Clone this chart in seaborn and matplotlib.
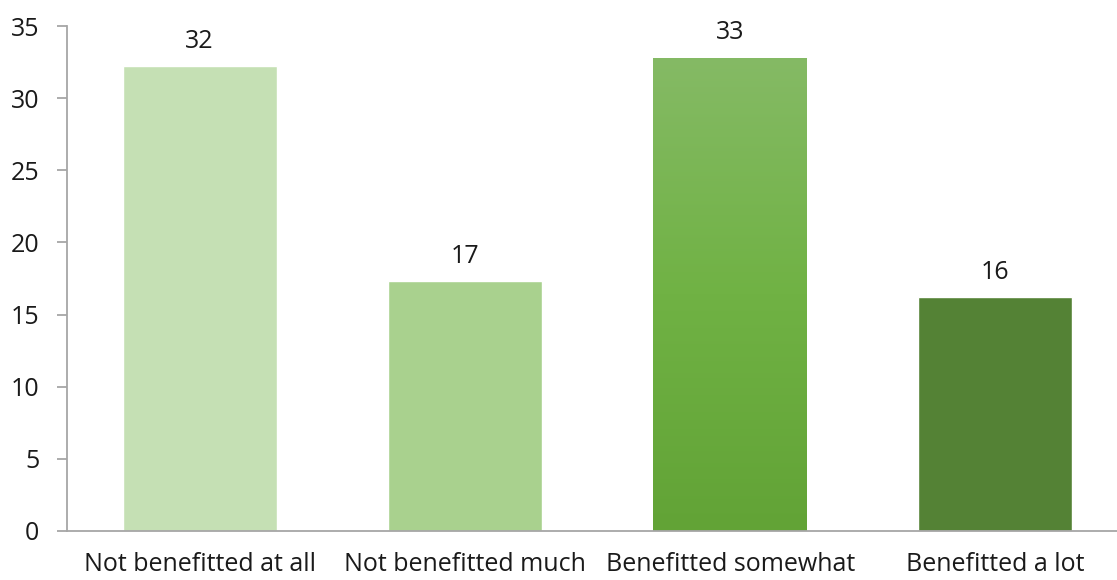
import numpy as np
import pandas as pd
import seaborn as sns
import matplotlib.pyplot as plt
from matplotlib.colors import LinearSegmentedColormap

categories = ["Not benefitted at all", "Not benefitted much", "Benefitted somewhat", "Benefitted a lot"]
values = [32.2, 17.3, 32.8, 16.2]
bar_colors = ["#C5E0B4", "#A9D18E", "#70AD47", "#548235"]
y_ticks = [0, 5, 10, 15, 20, 25, 30, 35]

sns.set_style("white")
plt.rcParams["font.family"] = ["Open Sans", "DejaVu Sans"]

df = pd.DataFrame({"category": categories, "value": values})

fig = plt.figure(figsize=(11.17, 5.80), dpi=100)
ax = fig.add_axes([67 / 1117, 49 / 580, 1061 / 1117, 505 / 580])

sns.barplot(data=df, x="category", y="value", hue="category", palette=bar_colors,
            legend=False, width=0.58, saturation=1, ax=ax)

# gradient fill for the third bar (lighter at top, darker at bottom)
grad = LinearSegmentedColormap.from_list("g", ["#62A336", "#70B244", "#85BA65"])
p = ax.patches[2]
x0, y0 = p.get_x(), p.get_y()
w, h = p.get_width(), p.get_height()
im = ax.imshow(np.linspace(0, 1, 256).reshape(-1, 1), cmap=grad, origin="lower",
               extent=[x0, x0 + w, y0, y0 + h], aspect="auto", zorder=p.get_zorder() + 0.1)
im.set_clip_path(p)

for c in ax.containers:
    ax.bar_label(c, fmt="%.0f", padding=9, fontsize=18, color="#1a1a1a")

ax.set_xlim(-0.5, 3.5)
ax.set_ylim(0, 35)
ax.set_yticks(y_ticks)
ax.set_xlabel("")
ax.set_ylabel("")

for s in ["top", "right"]:
    ax.spines[s].set_visible(False)
for s in ["left", "bottom"]:
    ax.spines[s].set_color("#A6A6A6")
    ax.spines[s].set_linewidth(1.3)

ax.tick_params(axis="y", length=7, width=1.3, color="#A6A6A6", pad=13,
               labelsize=18, labelcolor="#1a1a1a", left=True)
ax.tick_params(axis="x", length=0, pad=15, labelsize=18, labelcolor="#1a1a1a")

fig.savefig("out.png", dpi=100)
